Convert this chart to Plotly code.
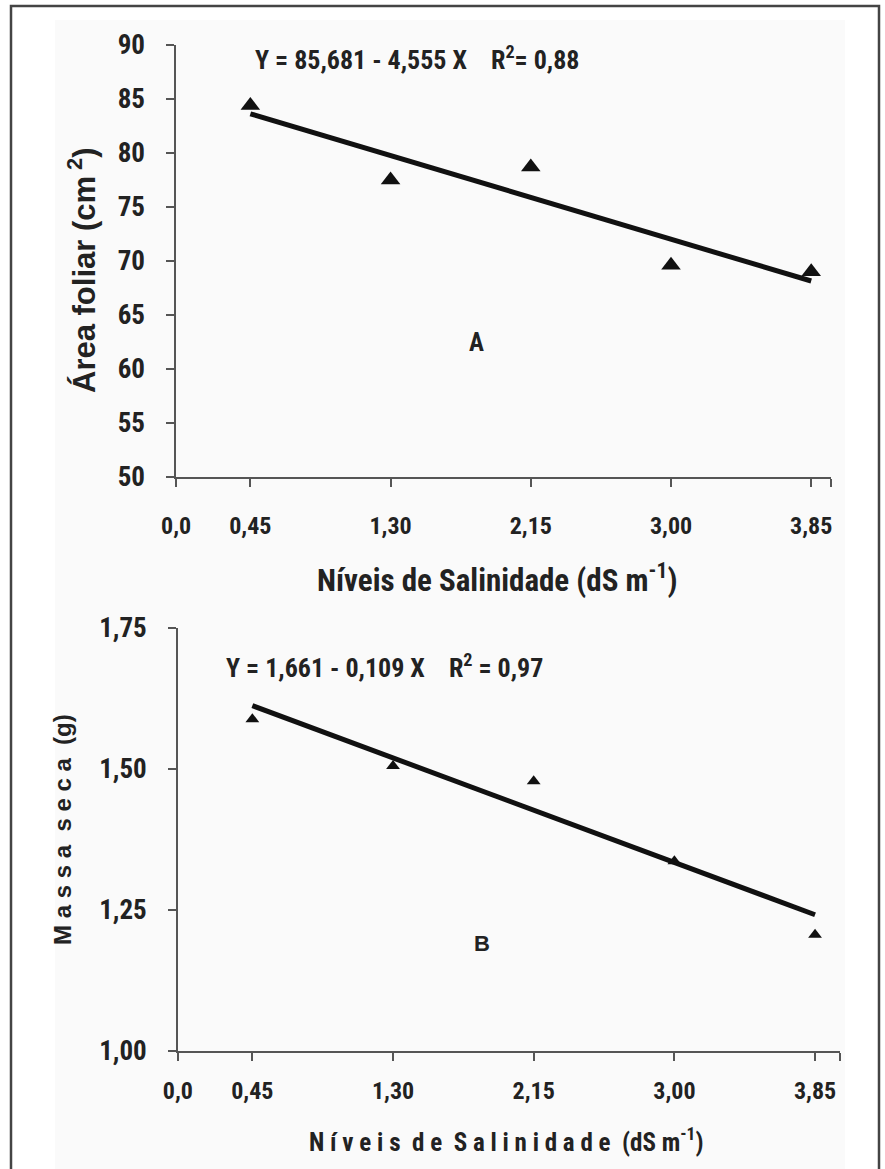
import plotly.graph_objects as go

# ---------------- data ----------------
x_levels = [0.45, 1.30, 2.15, 3.00, 3.85]
area_foliar = [84.4, 77.5, 78.7, 69.6, 69.0]
massa_seca = [1.588, 1.505, 1.478, 1.336, 1.206]

x_tick_vals = [0.0, 0.45, 1.30, 2.15, 3.00, 3.85]
x_tick_text = ["0,0", "0,45", "1,30", "2,15", "3,00", "3,85"]
y_top_ticks = [50, 55, 60, 65, 70, 75, 80, 85, 90]
y_bot_ticks = [1.00, 1.25, 1.50, 1.75]
y_bot_text = ["1,00", "1,25", "1,50", "1,75"]

fit_a_intercept, fit_a_slope = 85.681, -4.555
fit_b_intercept, fit_b_slope = 1.661, -0.109
fit_x = [x_levels[0], x_levels[-1]]

# ---------------- styling ----------------
NARROW = "Liberation Sans Narrow, Arial Narrow, Roboto Condensed, Liberation Sans, Arial, sans-serif"
ARIAL = "Liberation Sans, Arial, sans-serif"
AX = "#555555"

fig = go.Figure()

# top panel
fig.add_trace(go.Scatter(
    x=fit_x, y=[fit_a_intercept + fit_a_slope * v for v in fit_x],
    mode="lines", line=dict(color="#111111", width=5),
    xaxis="x", yaxis="y", showlegend=False))
fig.add_trace(go.Scatter(
    x=x_levels, y=area_foliar, mode="markers",
    marker=dict(symbol="triangle-up", size=17, color="#111111"),
    xaxis="x", yaxis="y", showlegend=False))

# bottom panel
fig.add_trace(go.Scatter(
    x=fit_x, y=[fit_b_intercept + fit_b_slope * v for v in fit_x],
    mode="lines", line=dict(color="#111111", width=5),
    xaxis="x2", yaxis="y2", showlegend=False))
fig.add_trace(go.Scatter(
    x=x_levels, y=massa_seca, mode="markers",
    marker=dict(symbol="triangle-up", size=12, color="#111111"),
    xaxis="x2", yaxis="y2", showlegend=False))

axis_common = dict(showline=True, linecolor=AX, linewidth=1.5, ticks="outside",
                   ticklen=8, tickcolor=AX, tickwidth=1.5, showgrid=False,
                   zeroline=False, mirror=False, automargin=False, tickangle=0)

top_x_end = 3.97
bot_x_end = 4.00

fig.update_layout(
    template="none",
    width=885, height=1169,
    margin=dict(l=0, r=0, t=0, b=0, pad=0),
    paper_bgcolor="white", plot_bgcolor="rgba(0,0,0,0)",
    xaxis=dict(domain=[0.199, 0.939], range=[0, top_x_end], anchor="y",
               tickvals=x_tick_vals + [top_x_end], ticktext=x_tick_text + [""],
               tickfont=dict(family=NARROW, size=24, color="#222", weight="bold"),
               ticklabelstandoff=18, **axis_common),
    yaxis=dict(domain=[0.592, 0.9615], range=[50, 90], anchor="x",
               tickvals=y_top_ticks, ticktext=[str(v) for v in y_top_ticks],
               tickfont=dict(family=NARROW, size=27, color="#222", weight="bold"),
               ticklabelstandoff=16, **axis_common),
    xaxis2=dict(domain=[0.201, 0.949], range=[0, bot_x_end], anchor="y2",
                tickvals=x_tick_vals + [bot_x_end], ticktext=x_tick_text + [""],
                tickfont=dict(family=NARROW, size=24, color="#222", weight="bold"),
                ticklabelstandoff=10, **axis_common),
    yaxis2=dict(domain=[0.101, 0.463], range=[1.0, 1.75], anchor="x2",
                tickvals=y_bot_ticks, ticktext=y_bot_text,
                tickfont=dict(family=NARROW, size=27, color="#222", weight="bold"),
                ticklabelstandoff=16, **axis_common),
)

ann = []
ann.append(dict(text="Y = 85,681 - 4,555 X    R<sup>2</sup>= 0,88",
                x=253/885, y=1-58/1169, xanchor="left", yanchor="middle",
                font=dict(family=NARROW, size=26, color="#222", weight="bold")))
ann.append(dict(text="A", x=476/885, y=1-342/1169, xanchor="center", yanchor="middle",
                font=dict(family=NARROW, size=25, color="#222", weight="bold")))
ann.append(dict(text="Y = 1,661 - 0,109 X    R<sup>2</sup> = 0,97",
                x=224/885, y=1-666/1169, xanchor="left", yanchor="middle",
                font=dict(family=NARROW, size=26, color="#222", weight="bold")))
ann.append(dict(text="B", x=482/885, y=1-943/1169, xanchor="center", yanchor="middle",
                font=dict(family=ARIAL, size=22, color="#222", weight="bold")))
ann.append(dict(text="Área foliar (cm<sup> 2</sup>)", textangle=-90,
                x=82/885, y=1-270/1169, xanchor="center", yanchor="middle",
                font=dict(family=ARIAL, size=31, color="#222", weight="bold")))
ann.append(dict(text="Níveis de Salinidade (dS m<sup>-1</sup>)",
                x=497/885, y=1-578/1169, xanchor="center", yanchor="middle",
                font=dict(family=NARROW, size=31, color="#222", weight="bold")))
ann.append(dict(text="M a s s a  s e c a  (g)", textangle=-90,
                x=62/885, y=1-830/1169, xanchor="center", yanchor="middle",
                font=dict(family=ARIAL, size=24, color="#222", weight="bold")))
ann.append(dict(text="N í v e i s  d e  S a l i n i d a d e  (dS m<sup>-1</sup>)",
                x=506/885, y=1-1140/1169, xanchor="center", yanchor="middle",
                font=dict(family=NARROW, size=25, color="#222", weight="bold")))
for a in ann:
    a.update(xref="paper", yref="paper", showarrow=False)
fig.update_layout(annotations=ann)

fig.add_shape(type="rect", xref="paper", yref="paper",
              x0=55/885, x1=845/885, y0=-0.01, y1=1-20/1169,
              fillcolor="#fafafa", line=dict(width=0), layer="below")
fig.add_shape(type="rect", xref="paper", yref="paper",
              x0=11/885, x1=879/885, y0=-0.02, y1=1-6/1169, layer="above",
              fillcolor="rgba(0,0,0,0)", line=dict(color="#444444", width=2.5))

fig.write_html("out.html", config={"displayModeBar": False},
               post_script="document.body.style.margin='0';document.body.style.overflow='hidden';")
